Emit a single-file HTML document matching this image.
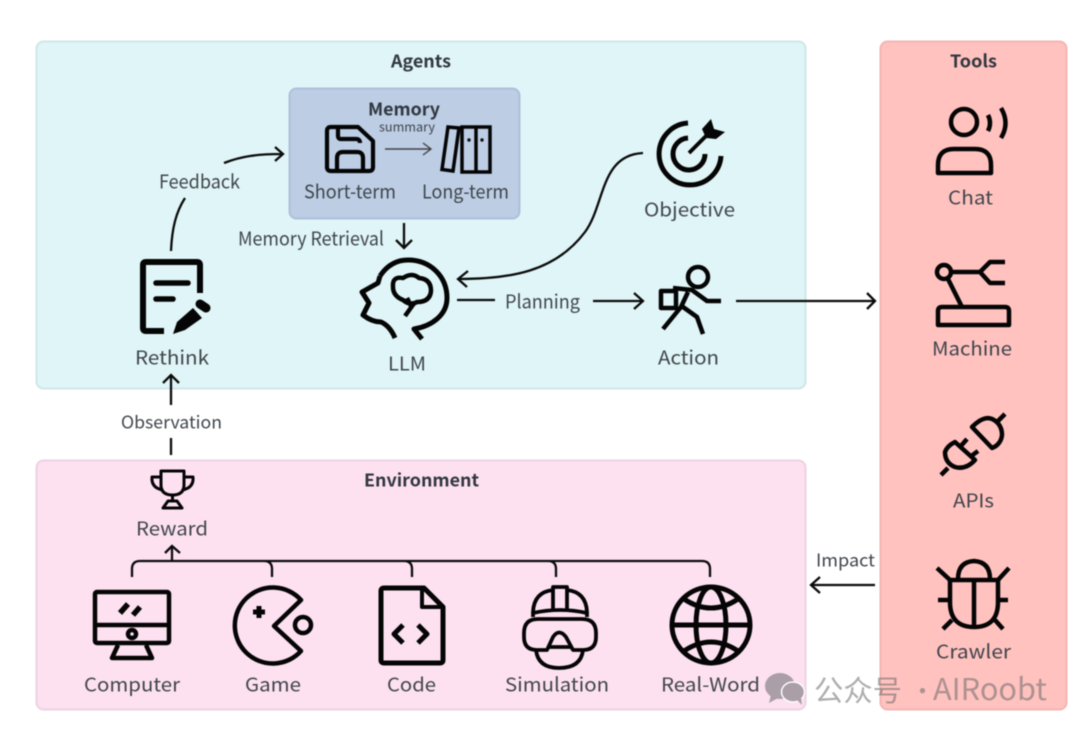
<!DOCTYPE html>
<html><head><meta charset="utf-8"><style>
html,body{margin:0;padding:0;background:#fff;width:1080px;height:733px;overflow:hidden}
svg{display:block;filter:blur(.45px)}
text{font-family:"Noto Sans CJK SC","Liberation Sans",sans-serif;font-size:19px;fill:#3f454c;text-anchor:start}
.b{font-weight:700;font-size:17.500px;fill:#31373f}
.s{font-size:17.500px}
.i{fill:none;stroke:#050505;stroke-width:5;stroke-linecap:butt;stroke-linejoin:round}
.a{fill:none;stroke:#0c0c0c;stroke-width:2.300;stroke-linecap:butt;stroke-linejoin:miter}
</style></head><body>
<svg width="1080" height="733" viewBox="0 0 1080 733" xmlns="http://www.w3.org/2000/svg">
<rect width="1080" height="733" fill="#fff"/>
<rect x="36.500" y="41.500" width="769" height="347" rx="7" fill="#e0f5f7" stroke="#cfe6ea" stroke-width="2"/>
<rect x="289.500" y="88.500" width="230" height="130" rx="7" fill="#bccde4" stroke="#adc0da" stroke-width="2"/>
<rect x="880.500" y="41.500" width="186" height="668" rx="7" fill="#ffc2bf" stroke="#f4b5b2" stroke-width="2"/>
<rect x="36.500" y="460.500" width="769" height="249" rx="7" fill="#fde1f1" stroke="#ecd2e2" stroke-width="2"/>

<g transform="translate(0,.6)">
<text class="b" x="391" y="67" textLength="60" lengthAdjust="spacingAndGlyphs">Agents</text>
<text class="b" x="950" y="67" textLength="47" lengthAdjust="spacingAndGlyphs">Tools</text>
<text class="b" x="364" y="486" textLength="115" lengthAdjust="spacingAndGlyphs">Environment</text>
<text class="b" x="368" y="115" textLength="72" lengthAdjust="spacingAndGlyphs">Memory</text>
<text x="379" y="131" style="font-size:12.500px" textLength="56" lengthAdjust="spacingAndGlyphs">summary</text>
<text x="304" y="198" textLength="92" lengthAdjust="spacingAndGlyphs">Short-term</text>
<text x="422" y="198" textLength="87" lengthAdjust="spacingAndGlyphs">Long-term</text>
<text x="159" y="188" textLength="81" lengthAdjust="spacingAndGlyphs">Feedback</text>
<text x="238" y="245" textLength="146" lengthAdjust="spacingAndGlyphs">Memory Retrieval</text>
<text x="135" y="364" textLength="74" lengthAdjust="spacingAndGlyphs">Rethink</text>
<text x="388" y="370" textLength="38" lengthAdjust="spacingAndGlyphs">LLM</text>
<text x="505" y="308" textLength="75" lengthAdjust="spacingAndGlyphs">Planning</text>
<text x="644" y="216" textLength="91" lengthAdjust="spacingAndGlyphs">Objective</text>
<text x="658" y="364" textLength="61" lengthAdjust="spacingAndGlyphs">Action</text>
<text x="948" y="204" textLength="45" lengthAdjust="spacingAndGlyphs">Chat</text>
<text x="932" y="355" textLength="80" lengthAdjust="spacingAndGlyphs">Machine</text>
<text x="953" y="507" textLength="41" lengthAdjust="spacingAndGlyphs">APIs</text>
<text x="936" y="658" textLength="75" lengthAdjust="spacingAndGlyphs">Crawler</text>
<text class="s" x="121" y="428" textLength="101" lengthAdjust="spacingAndGlyphs">Observation</text>
<text x="136" y="535" textLength="72" lengthAdjust="spacingAndGlyphs">Reward</text>
<text class="s" x="816" y="566" textLength="59" lengthAdjust="spacingAndGlyphs">Impact</text>
<text x="84" y="691" textLength="96" lengthAdjust="spacingAndGlyphs">Computer</text>
<text x="245" y="691" textLength="56" lengthAdjust="spacingAndGlyphs">Game</text>
<text x="387" y="691" textLength="49" lengthAdjust="spacingAndGlyphs">Code</text>
<text x="505" y="691" textLength="104" lengthAdjust="spacingAndGlyphs">Simulation</text>
<text x="661" y="691" textLength="99" lengthAdjust="spacingAndGlyphs">Real-Word</text>
</g>

<!-- connectors -->
<g class="a">
<path d="M385 149H431M423 143l8 6-8 6" style="stroke:#444;stroke-width:1.400"/>
<path d="M171 251C172 228 176 212 185 198"/>
<path d="M224 163C242 156 258 154 283 154M275 147l8 7-8 7"/>
<path d="M404 223V248M396 240l8 8 8-8"/>
<path d="M457 300H495M593 301H643M634 293l9 8-9 8"/>
<path d="M643 153C600 155 605 205 585 232C555 272 510 279 458 279M468 271l-10 8 9 8"/>
<path d="M736 301H875M867 293l8 8-8 8"/>
<path d="M171 405V375M163 383l8-8 8 8M171 438V455"/>
<path d="M875 585H811M820 577l-9 8 9 8"/>
<path d="M132 577V569Q132 561 140 561H702Q710 561 710 569V577M272 577V569Q272 561 264 561M412 577V569Q412 561 404 561M556 577V569Q556 561 548 561M172 561V546M165 553l7-7 8 7"/>
</g>

<!-- floppy -->
<g class="i" style="stroke-width:4.200">
<path d="M331 127H358L373 141V167Q373 171 369 171H331Q327 171 327 167V131Q327 127 331 127Z"/>
<path d="M338 127V136Q338 139 341 139H356Q360 139 360 143M337 171V158Q337 152 343 152H357Q363 152 363 158V171"/>
</g>
<!-- books -->
<g class="i" style="stroke-width:3.500;stroke-linejoin:miter">
<path d="M448 127L459 128L453 171L442 169.500Z"/>
<rect x="462" y="127" width="28" height="45"/>
<path d="M476 127V172"/>
</g>
<circle cx="469" cy="140" r="1.700" fill="#111"/><circle cx="482" cy="140" r="1.700" fill="#111"/>

<!-- objective -->
<g class="i">
<path d="M688 123A31 31 0 1 0 721 156"/>
<path d="M688 138A16 16 0 1 0 705 154"/>
<path d="M689 153L708 134" style="stroke-width:3.800"/>
</g>
<path d="M702 129L711 119L714 129L725 132L716 139L706 138Z" fill="#050505"/>

<!-- action -->
<g class="i" style="stroke-width:4.500">
<circle cx="698" cy="277" r="10"/>
<path d="M661 291H676V308H661Z"/>
<path d="M673 288L692 290L707 301H721"/>
<path d="M688 292L681 307L663 329M683 307L697 317L703 334"/>
</g>

<!-- LLM -->
<g class="i">
<path d="M380 276C388 264 398 260 408 260C431 260 447 277 447 298C447 315 432 326 414 329L422 339"/>
<path d="M380 276L378 283L362 292L369 303L363 315Q372 322 381 322Q390 326 395 338"/>
<path d="M393 287Q392 276 403 278Q412 272 419 278Q431 279 431 291Q430 302 417 302Q410 306 403 300Q393 296 393 287Z" style="stroke-width:4.500"/>
<path d="M415 302L405 316M407 298L411 306" style="stroke-width:4.500"/>
</g>

<!-- rethink -->
<g class="i" style="stroke-width:6">
<path d="M164 331H146Q143 331 143 328V265Q143 262 146 262H197Q200 262 200 265V293"/>
</g>
<g class="i" style="stroke-width:5.500;stroke-linecap:round">
<path d="M156 283H188M156 299H173"/>
</g>
<path d="M173 334L177 322L193 308L202 318L185 330Z" fill="#050505"/>
<path d="M200 304L206 308" stroke="#050505" stroke-width="9" stroke-linecap="round"/>

<!-- chat -->
<g class="i" style="stroke-width:4.500">
<circle cx="964" cy="122" r="13"/>
<path d="M938 173V165Q938 149 954 149H975Q991 149 991 165V173Z"/>
<path d="M988 115Q992 123 988 131M1001 108Q1010 123 1001 138"/>
</g>
<!-- machine -->
<g class="i" style="stroke-width:4.500">
<circle cx="944" cy="272" r="7"/>
<path d="M951 272H980M1005 262H990L980 272L990 283H1005M948 279L962 307"/>
<path d="M938 325V311Q938 307 942 307H1005Q1009 307 1009 311V325Z"/>
</g>
<!-- APIs -->
<g class="i" style="stroke-width:4.500">
<path d="M972 427L992 448A15 15 0 0 0 1002 435Q1002 425 994 420Q985 414 972 427ZM997 422L1005 414"/>
<path d="M955 442L975 460Q966 470 955 467Q945 463 945 452Q947 446 955 442ZM960 447L967 439M970 457L978 451M948 468L941 475"/>
</g>
<!-- crawler -->
<g class="i" style="stroke-width:4.500">
<path d="M950 580H998V602Q998 627 974 627Q950 627 950 602Z"/>
<path d="M974 580V627M958 579Q958 562 974 561Q990 562 990 579"/>
<path d="M937 568L950 580M1009 568L998 580M938 600H950M998 600H1008M943 629L952 620M1003 629L995 620"/>
</g>

<!-- trophy -->
<g class="i" style="stroke-width:3">
<path d="M161 471H184V485Q184 495 172.500 495Q161 495 161 485Z"/>
<path d="M161 477H152Q151 488 163 490M184 477H193Q194 488 182 490"/>
<path d="M172.500 495V500M168 501H177L182 508H163Z"/>
</g>

<!-- computer -->
<g class="i" style="stroke-width:4.500">
<rect x="95" y="592" width="74" height="51" rx="2"/>
<path d="M95 625H169"/>
<path d="M118 645L112 658H152L146 645"/>
<circle cx="132" cy="634" r="4"/>
<path d="M120 613L128 604M133 615L140 607" style="stroke-width:5.500"/>
</g>
<!-- game -->
<g class="i" style="stroke-width:4.500">
<path d="M301 600L274 626L301 651A38 38 0 1 1 301 600Z"/>
<circle cx="303" cy="625" r="8"/>
<path d="M259 606V618M253 612H265" style="stroke-width:5"/>
</g>
<!-- code -->
<g class="i">
<path d="M384 588H424L443 607V660Q443 663 440 663H384Q381 663 381 660V591Q381 588 384 588Z"/>
<path d="M422 588V607H443" style="stroke-width:4"/>
<path d="M403 625L394 634L403 643M418 625L427 634L418 643"/>
</g>
<!-- simulation -->
<g class="i" style="stroke-width:3.800">
<path d="M533 617V612Q534 592 553 590M587 617V612Q586 592 567 590"/>
<path d="M553 600V587H567V610M553 600V610"/>
<path d="M533 613Q560 607 587 613"/>
<path d="M538 619H582Q596 619 596 633V637Q596 650 583 650H573L566 637Q559 628 553 637L547 650H537Q524 650 524 637V633Q524 619 538 619Z"/>
<path d="M536 650Q538 668 559 668Q581 668 583 650M548 647H571"/>
</g>
<!-- globe -->
<g class="i">
<ellipse cx="711" cy="625" rx="39" ry="38"/>
<ellipse cx="711" cy="625" rx="15" ry="38"/>
<path d="M672 625H750M684 599Q711 617 738 599M684 651Q711 633 738 651"/>
</g>

<!-- watermark -->
<g fill="#a2979f" opacity=".9">
<ellipse cx="780" cy="686" rx="15" ry="13"/>
<path d="M771 695l-2 8 9-5Z"/>
<ellipse cx="793" cy="692" rx="11.500" ry="10" stroke="#fff" stroke-width="1.500"/>
<path d="M797 700l5 5-1-8Z"/>
</g>
<text x="814" y="701" style="font-size:29px;fill:rgba(105,105,105,.55)" textLength="88" lengthAdjust="spacingAndGlyphs">公众号</text>
<text x="910" y="700" style="font-size:25px;fill:rgba(105,105,105,.55)">·</text>
<text x="933" y="700" style="font-size:30px;fill:rgba(105,105,105,.55)" textLength="114" lengthAdjust="spacingAndGlyphs">AIRoobt</text>
</svg>
</body></html>
